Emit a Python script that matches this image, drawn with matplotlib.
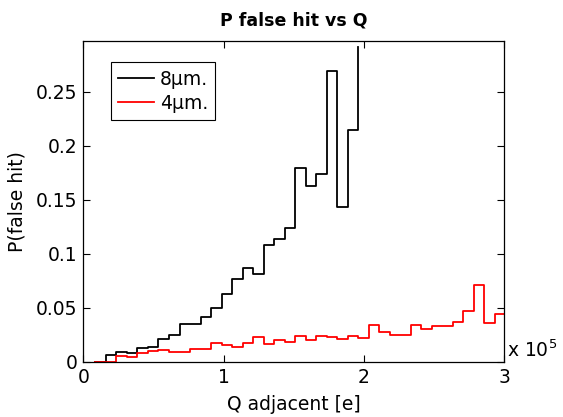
import numpy as np
import matplotlib
matplotlib.use("Agg")
import matplotlib.pyplot as plt
from matplotlib.ticker import FuncFormatter

plt.rcParams['font.family'] = ['DejaVu Sans']

# bin edges (Q adjacent, electrons)
q_start = 8500
q_step = 7500

# P(false hit) per bin, 8um pitch
p_8um = [0.0, 0.006, 0.0085, 0.0076, 0.0122, 0.0131, 0.0205, 0.0245, 0.0347, 0.0347,
         0.0414, 0.0497, 0.0621, 0.0769, 0.0867, 0.0815, 0.1083, 0.1132, 0.124,
         0.179, 0.1625, 0.1733, 0.2694, 0.143, 0.2146, 0.291]

# 4um pitch
p_4um = [0.0, 0.0, 0.0054, 0.0045, 0.008, 0.0094, 0.0103, 0.009, 0.009, 0.012, 0.012,
         0.0168, 0.0152, 0.0138, 0.0168, 0.0226, 0.0164, 0.02, 0.0185, 0.0238,
         0.0195, 0.0235, 0.0225, 0.0212, 0.024, 0.0214, 0.0334, 0.0272, 0.025,
         0.025, 0.0335, 0.030, 0.0328, 0.033, 0.0365, 0.0467, 0.071, 0.0359,
         0.0442, 0.0442]

q_8um = q_start + q_step * np.arange(len(p_8um))
q_4um = q_start + q_step * np.arange(len(p_4um))

fig = plt.figure(figsize=(5.63, 4.17), dpi=100)
ax = fig.add_axes([0.1483, 0.133, 0.747, 0.769])

ax.step(q_8um, p_8um, where='post', color='black', lw=1.3, label='8\u03bcm.')
ax.step(q_4um, p_4um, where='post', color='red', lw=1.3, label='4\u03bcm.')

fs = 13.5
ax.set_xlim(0, 3e5)
ax.set_ylim(0, 0.297)
ax.set_xticks([0, 1e5, 2e5, 3e5])
ax.set_yticks([0, 0.05, 0.1, 0.15, 0.2, 0.25])
ax.set_yticklabels(['0', '0.05', '0.1', '0.15', '0.2', '0.25'])
ax.xaxis.set_major_formatter(FuncFormatter(lambda v, p: '%g' % (v / 1e5)))
ax.tick_params(direction='in', top=True, right=True, length=5, labelsize=fs, width=0.8, pad=4.5)
for s in ax.spines.values():
    s.set_linewidth(0.9)

ax.text(1.007, 0.035, 'x 10$^5$', transform=ax.transAxes, fontsize=fs, va='center', ha='left')

ax.set_title('P false hit vs Q', fontsize=12.5, fontweight='bold', pad=11)
ax.set_xlabel('Q adjacent [e]', fontsize=fs, labelpad=6)
ax.set_ylabel('P(false hit)', fontsize=fs, labelpad=7)

leg = ax.legend(loc='upper left', bbox_to_anchor=(0.065, 0.933), borderaxespad=0,
                fontsize=fs, fancybox=False, edgecolor='black', framealpha=1,
                handlelength=1.9, handletextpad=0.3, borderpad=0.4, labelspacing=0.25)
leg.get_frame().set_linewidth(0.8)

fig.savefig('out.png', dpi=100)
